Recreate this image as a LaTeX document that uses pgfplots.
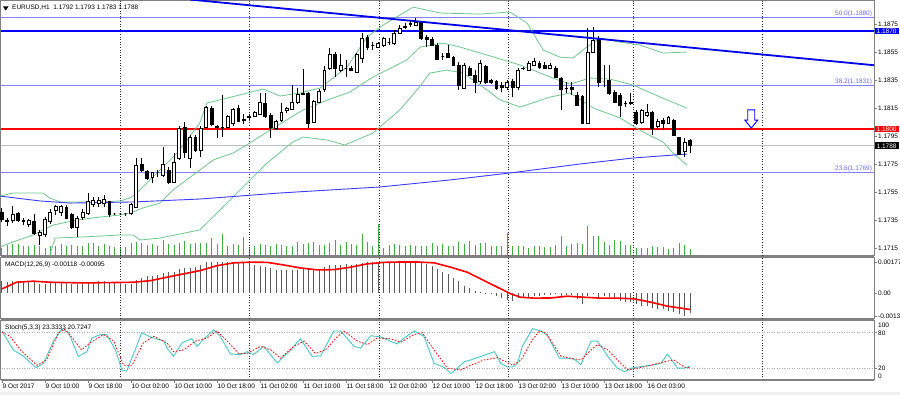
\documentclass[border=0pt]{standalone}
\usepackage{fontspec}
\setmainfont{Liberation Sans}
\usepackage{pgfplots}
\pgfplotsset{compat=1.18}
\usepackage{pgfplotstable}

\definecolor{bb}{RGB}{110,200,140}
\definecolor{vol}{RGB}{60,175,60}
\definecolor{fib}{RGB}{130,130,255}
\definecolor{ma}{RGB}{60,60,255}
\definecolor{tl}{RGB}{0,0,230}
\definecolor{stm}{RGB}{70,200,200}
\definecolor{frame}{RGB}{128,128,128}
\definecolor{hist}{RGB}{90,90,90}
\newcommand\sm{\fontsize{6.5}{7.5}\selectfont}
\pgfdeclareplotmark{nothing}{}
\newcommand\tofixed[2]{\begingroup\pgfkeys{/pgf/fpu=true,/pgf/fpu/output format=fixed}\pgfmathparse{#2}\global\let#1\pgfmathresult\endgroup}

\pgfplotstableread{
i o h l c
0 1.17407 1.17436 1.17336 1.17350
1 1.17343 1.17364 1.17307 1.17336
2 1.17350 1.17450 1.17329 1.17386
3 1.17393 1.17407 1.17336 1.17350
4 1.17343 1.17364 1.17314 1.17336
5 1.17321 1.17357 1.17300 1.17343
6 1.17336 1.17393 1.17243 1.17257
7 1.17236 1.17279 1.17171 1.17264
8 1.17243 1.17371 1.17229 1.17350
9 1.17336 1.17429 1.17321 1.17407
10 1.17421 1.17457 1.17386 1.17443
11 1.17407 1.17457 1.17379 1.17443
12 1.17443 1.17457 1.17357 1.17364
13 1.17386 1.17400 1.17286 1.17293
14 1.17293 1.17379 1.17229 1.17364
15 1.17371 1.17429 1.17350 1.17407
16 1.17400 1.17543 1.17386 1.17479
17 1.17464 1.17514 1.17443 1.17486
18 1.17471 1.17514 1.17443 1.17486
19 1.17471 1.17529 1.17443 1.17493
20 1.17479 1.17486 1.17371 1.17386
21 1.17393 1.17400 1.17386 1.17393
22 1.17393 1.17400 1.17386 1.17393
23 1.17393 1.17400 1.17379 1.17393
24 1.17393 1.17471 1.17386 1.17464
25 1.17443 1.17793 1.17436 1.17743
26 1.17750 1.17793 1.17693 1.17707
27 1.17693 1.17707 1.17636 1.17643
28 1.17657 1.17693 1.17614 1.17686
29 1.17686 1.17707 1.17657 1.17686
30 1.17671 1.17871 1.17657 1.17750
31 1.17707 1.17729 1.17607 1.17621
32 1.17621 1.17829 1.17614 1.17764
33 1.17793 1.18021 1.17779 1.18007
34 1.18014 1.18050 1.17793 1.17829
35 1.17793 1.17957 1.17721 1.17943
36 1.17943 1.17957 1.17836 1.17850
37 1.17850 1.18021 1.17800 1.18007
38 1.18014 1.18164 1.18007 1.18157
39 1.18150 1.18164 1.18021 1.18029
40 1.18021 1.18029 1.17936 1.18014
41 1.18014 1.18243 1.17943 1.18014
42 1.18014 1.18100 1.18007 1.18086
43 1.18043 1.18150 1.18021 1.18136
44 1.18150 1.18171 1.18050 1.18057
45 1.18071 1.18107 1.18036 1.18064
46 1.18079 1.18107 1.18064 1.18086
47 1.18093 1.18129 1.18086 1.18121
48 1.18107 1.18257 1.18100 1.18186
49 1.18179 1.18257 1.18079 1.18086
50 1.18100 1.18114 1.17936 1.18014
51 1.18007 1.18064 1.17993 1.18057
52 1.18064 1.18186 1.18050 1.18121
53 1.18129 1.18157 1.18114 1.18150
54 1.18143 1.18314 1.18136 1.18193
55 1.18186 1.18293 1.18179 1.18250
56 1.18250 1.18429 1.18243 1.18257
57 1.18257 1.18264 1.18007 1.18043
58 1.18050 1.18207 1.18043 1.18200
59 1.18193 1.18286 1.18186 1.18271
60 1.18279 1.18450 1.18264 1.18421
61 1.18436 1.18579 1.18421 1.18529
62 1.18529 1.18550 1.18371 1.18436
63 1.18421 1.18536 1.18407 1.18457
64 1.18436 1.18493 1.18371 1.18436
65 1.18436 1.18450 1.18414 1.18421
66 1.18407 1.18543 1.18400 1.18529
67 1.18507 1.18686 1.18471 1.18650
68 1.18657 1.18671 1.18564 1.18586
69 1.18600 1.18621 1.18564 1.18600
70 1.18586 1.18621 1.18579 1.18614
71 1.18600 1.18657 1.18586 1.18650
72 1.18621 1.18650 1.18600 1.18621
73 1.18614 1.18707 1.18600 1.18686
74 1.18686 1.18743 1.18679 1.18721
75 1.18729 1.18757 1.18714 1.18736
76 1.18750 1.18771 1.18729 1.18757
77 1.18743 1.18793 1.18736 1.18764
78 1.18764 1.18771 1.18636 1.18650
79 1.18657 1.18671 1.18586 1.18643
80 1.18643 1.18657 1.18593 1.18600
81 1.18600 1.18614 1.18493 1.18500
82 1.18521 1.18543 1.18493 1.18521
83 1.18543 1.18600 1.18507 1.18514
84 1.18514 1.18521 1.18450 1.18457
85 1.18457 1.18479 1.18279 1.18314
86 1.18293 1.18471 1.18286 1.18457
87 1.18436 1.18450 1.18379 1.18386
88 1.18386 1.18421 1.18257 1.18329
89 1.18336 1.18493 1.18321 1.18471
90 1.18450 1.18457 1.18321 1.18329
91 1.18350 1.18357 1.18321 1.18329
92 1.18343 1.18350 1.18279 1.18293
93 1.18314 1.18336 1.18264 1.18300
94 1.18300 1.18350 1.18279 1.18329
95 1.18336 1.18357 1.18229 1.18300
96 1.18300 1.18436 1.18279 1.18421
97 1.18429 1.18443 1.18421 1.18436
98 1.18421 1.18486 1.18414 1.18471
99 1.18457 1.18507 1.18450 1.18479
100 1.18471 1.18486 1.18429 1.18436
101 1.18457 1.18479 1.18429 1.18436
102 1.18436 1.18471 1.18429 1.18457
103 1.18436 1.18450 1.18364 1.18371
104 1.18364 1.18371 1.18136 1.18279
105 1.18293 1.18336 1.18257 1.18293
106 1.18300 1.18336 1.18243 1.18279
107 1.18243 1.18264 1.18164 1.18171
108 1.18229 1.18243 1.18043 1.18043
109 1.18043 1.18721 1.18036 1.18550
110 1.18550 1.18729 1.18543 1.18636
111 1.18650 1.18664 1.18300 1.18336
112 1.18336 1.18457 1.18300 1.18336
113 1.18350 1.18457 1.18243 1.18257
114 1.18264 1.18279 1.18186 1.18193
115 1.18243 1.18257 1.18086 1.18171
116 1.18179 1.18200 1.18157 1.18179
117 1.18179 1.18257 1.18171 1.18193
118 1.18121 1.18136 1.18029 1.18043
119 1.18050 1.18143 1.18036 1.18129
120 1.18100 1.18179 1.18086 1.18121
121 1.18121 1.18129 1.17957 1.18007
122 1.18021 1.18071 1.17993 1.18057
123 1.18064 1.18079 1.17993 1.18043
124 1.18043 1.18093 1.18036 1.18079
125 1.18064 1.18071 1.17950 1.17957
126 1.17936 1.17943 1.17814 1.17821
127 1.17836 1.17936 1.17800 1.17907
128 1.17920 1.17930 1.17830 1.17880
}\ohlc

\pgfplotstableread{
i v
0 8
1 11
2 12
3 12
4 10
5 10
6 11
7 10
8 8
9 10
10 10
11 12
12 10
13 11
14 10
15 10
16 13
17 13
18 10
19 12
20 10
21 9
22 8
23 9
24 13
25 14
26 13
27 11
28 12
29 10
30 16
31 12
32 11
33 13
34 15
35 12
36 13
37 13
38 13
39 18
40 12
41 22
42 10
43 12
44 11
45 19
46 9
47 10
48 12
49 11
50 10
51 12
52 11
53 10
54 10
55 14
56 12
57 13
58 14
59 11
60 11
61 13
62 16
63 11
64 14
65 12
66 11
67 22
68 14
69 10
70 32
71 8
72 11
73 12
74 11
75 10
76 11
77 10
78 10
79 10
80 13
81 10
82 12
83 10
84 10
85 14
86 12
87 15
88 11
89 13
90 13
91 10
92 10
93 10
94 23
95 10
96 10
97 10
98 8
99 10
100 10
101 9
102 9
103 11
104 20
105 10
106 12
107 13
108 12
109 30
110 20
111 20
112 14
113 11
114 16
115 15
116 11
117 11
118 8
119 8
120 8
121 10
122 9
123 9
124 7
125 8
126 13
127 11
128 7
}\volume

\pgfplotstableread{
i m
0 0.00070
1 0.00065
2 0.00067
3 0.00069
4 0.00067
5 0.00067
6 0.00061
7 0.00051
8 0.00051
9 0.00057
10 0.00063
11 0.00063
12 0.00057
13 0.00051
14 0.00051
15 0.00057
16 0.00061
17 0.00065
18 0.00067
19 0.00067
20 0.00061
21 0.00061
22 0.00057
23 0.00051
24 0.00053
25 0.00074
26 0.00086
27 0.00096
28 0.00099
29 0.00105
30 0.00114
31 0.00118
32 0.00122
33 0.00137
34 0.00141
35 0.00143
36 0.00147
37 0.00160
38 0.00176
39 0.00177
40 0.00177
41 0.00175
42 0.00175
43 0.00175
44 0.00175
45 0.00172
46 0.00170
47 0.00160
48 0.00153
49 0.00147
50 0.00141
51 0.00133
52 0.00132
53 0.00130
54 0.00130
55 0.00133
56 0.00141
57 0.00137
58 0.00133
59 0.00137
60 0.00147
61 0.00160
62 0.00162
63 0.00162
64 0.00164
65 0.00162
66 0.00166
67 0.00172
68 0.00175
69 0.00175
70 0.00176
71 0.00176
72 0.00177
73 0.00177
74 0.00177
75 0.00177
76 0.00177
77 0.00177
78 0.00175
79 0.00166
80 0.00153
81 0.00137
82 0.00122
83 0.00109
84 0.00084
85 0.00070
86 0.00042
87 0.00027
88 0.00013
89 0.00004
90 0.00001
91 -0.00005
92 -0.00015
93 -0.00030
94 -0.00038
95 -0.00046
96 -0.00030
97 -0.00021
98 -0.00021
99 -0.00019
100 -0.00015
101 -0.00011
102 -0.00010
103 -0.00008
104 -0.00015
105 -0.00011
106 -0.00011
107 -0.00034
108 -0.00063
109 -0.00019
110 -0.00006
111 -0.00025
112 -0.00015
113 -0.00025
114 -0.00034
115 -0.00044
116 -0.00050
117 -0.00053
118 -0.00063
119 -0.00073
120 -0.00076
121 -0.00088
122 -0.00092
123 -0.00095
124 -0.00101
125 -0.00110
126 -0.00121
127 -0.00132
128 -0.00118
}\macd

\pgfplotsset{
  mt4/.style={
    scale only axis, width=873pt, xmin=-0.186, xmax=162.23,
    axis line style={draw=frame, line width=1pt},
    clip mode=individual,
    xtick=\empty,
    extra x ticks={22.1,46.1,70.3,94.3,117.4,141.4},
    extra x tick labels={},
    extra x tick style={grid=major, major tick length=0pt},
    major grid style={black!85, dash pattern=on 1pt off 1.6pt, line width=0.8pt},
    tick align=outside, major tick length=3pt,
    tick style={draw=frame, line width=0.6pt},
    ytick pos=right, yticklabel pos=right,
    yticklabel style={anchor=west, font=\sm, inner sep=1pt},
    /pgf/number format/assume math mode=true,
    scaled y ticks=false,
  }
}

\begin{document}
\begin{tikzpicture}[x=1pt,y=1pt]
\useasboundingbox (0pt,0pt) rectangle (900pt,395pt);
\fill[white] (0pt,0pt) rectangle (900pt,395pt);
\fill[gray!12] (0pt,0pt) rectangle (900pt,2.5pt);

% volume overlay
\begin{axis}[mt4, at={(1pt,394pt)}, anchor=north west, height=255pt,
  ymin=0, ymax=255, axis lines=none, ytick=\empty, extra x ticks={}]
\addplot[ycomb, vol, line width=1pt, mark=none] table[x=i, y=v] {\volume};
\end{axis}

% main price panel (prices mapped to pips above 1.17 internally)
\begin{axis}[mt4, at={(1pt,394pt)}, anchor=north west, height=255pt,
  y coord trafo/.code={\pgfmathparse{#1*10000-11700}},
  ymin=1.170929, ymax=1.189143,
  ytick={1.1715,1.1735,1.1755,1.1775,1.1795,1.1815,1.1835,1.1855,1.1875},
  yticklabels={1.1715,1.1735,1.1755,1.1775,1.1795,1.1815,1.1835,1.1855,1.1875}]
% horizontal levels
\addplot[fib, line width=1pt] coordinates {(-1,1.1880) (165,1.1880)};
\addplot[fib, line width=1.6pt] coordinates {(-1,1.1831) (165,1.1831)};
\addplot[fib, line width=1.6pt] coordinates {(-1,1.1769) (165,1.1769)};
\addplot[blue, line width=1.5pt] coordinates {(-1,1.1870) (165,1.1870)};
\addplot[red, line width=1.5pt] coordinates {(-1,1.1800) (165,1.1800)};
\addplot[black!25, line width=0.8pt] coordinates {(-1,1.1788) (165,1.1788)};
% Bollinger bands
\addplot[bb, line width=0.8pt] coordinates {(-0.4,1.17521) (2.1,1.17543) (7.6,1.17543) (8.9,1.17507) (10.8,1.17479) (18.2,1.17479) (22,1.17486) (23.8,1.17507) (25.1,1.17543) (27.5,1.17636) (32.6,1.17829) (36.8,1.18043) (38.1,1.18186) (41.9,1.18221) (48.6,1.18286) (51.7,1.18236) (55.4,1.18257) (59.2,1.18293) (64.2,1.18443) (67.9,1.18657) (70.9,1.18743) (76.5,1.18871) (81.5,1.18829) (88.9,1.18821) (94.5,1.18836) (97.7,1.18757) (100.7,1.18564) (103.8,1.18514) (106.2,1.18507) (108.8,1.18586) (111.3,1.18650) (115,1.18621) (118.7,1.18600) (123,1.18543) (127.4,1.18550)};
\addplot[bb, line width=0.8pt] coordinates {(-0.4,1.17157) (2.0,1.17193) (5.8,1.17243) (7.6,1.17279) (9.5,1.17314) (14,1.17350) (18.2,1.17371) (22,1.17386) (24.4,1.17407) (26.2,1.17436) (29.4,1.17471) (31.8,1.17564) (36.8,1.17707) (39.3,1.17779) (43.0,1.17829) (46.1,1.17900) (49.9,1.17993) (56.0,1.18136) (60.5,1.18207) (64.7,1.18264) (69.0,1.18371) (75.3,1.18493) (77.8,1.18586) (82.0,1.18614) (85.2,1.18586) (90.2,1.18529) (96.4,1.18457) (102.5,1.18364) (105.7,1.18321) (109.4,1.18364) (113.1,1.18357) (117.4,1.18314) (122.4,1.18229) (127.4,1.18150)};
\addplot[bb, line width=0.8pt] coordinates {(-0.4,1.16900) (8.6,1.17050) (8.9,1.17100) (9.9,1.17221) (15.1,1.17229) (22,1.17243) (24.4,1.17243) (25.7,1.17207) (29.4,1.17221) (36.8,1.17279) (43.0,1.17514) (49.3,1.17757) (54.1,1.17907) (56.0,1.17943) (60.5,1.17921) (63.8,1.17886) (69.0,1.17971) (74.0,1.18136) (77.2,1.18279) (79.6,1.18400) (82.8,1.18421) (85.8,1.18400) (89.5,1.18300) (92.7,1.18207) (96.4,1.18157) (102.0,1.18229) (105.7,1.18257) (110.0,1.18150) (115.0,1.18079) (117.4,1.18021) (120.0,1.17964) (123.0,1.17907) (124.8,1.17829) (127.4,1.17743)};
% long moving average
\addplot[ma, line width=0.9pt] coordinates {(-0.4,1.17521) (7.1,1.17486) (12.7,1.17471) (24.4,1.17479) (36.8,1.17500) (51.7,1.17543) (70.3,1.17586) (83.3,1.17636) (94.5,1.17686) (107.5,1.17750) (117.4,1.17793) (127.4,1.17821)};
% candles
\addplot[scatter, only marks, mark=nothing, point meta=0,
  visualization depends on={(\thisrow{h}-\thisrow{o})*14000 \as \rh},
  visualization depends on={(\thisrow{l}-\thisrow{o})*14000 \as \rl},
  visualization depends on={(\thisrow{c}-\thisrow{o})*14000 \as \rc},
  scatter/@pre marker code/.code={%
    \tofixed\dH{\rh}\tofixed\dL{\rl}\tofixed\dC{\rc}%
    \draw[black, line width=1pt] (0pt,\dL pt) -- (0pt,\dH pt);%
    \ifdim\dC pt>0.01pt
      \filldraw[fill=white, draw=black, line width=1pt] (-1.4pt,0pt) rectangle (1.4pt,\dC pt);%
    \else
      \filldraw[fill=black, draw=black, line width=1pt] (-1.4pt,0pt) rectangle (1.4pt,\dC pt);%
    \fi
  },
  scatter/@post marker code/.code={}]
  table[x=i, y=o] {\ohlc};
% trend line
\addplot[tl, line width=1.8pt] coordinates {(35,1.18925) (163,1.18453)};
% arrow
\draw[blue, line width=0.9pt, fill=white] (axis cs:138.75,1.18136) -- (axis cs:140.05,1.18136) -- (axis cs:140.05,1.18064) -- (axis cs:140.6,1.18064) -- (axis cs:139.4,1.18007) -- (axis cs:138.2,1.18064) -- (axis cs:138.75,1.18064) -- cycle;
% level texts
\node[anchor=base east, text=fib!80!blue, font=\sm, inner sep=0pt, yshift=1.5pt] at (axis cs:161.9,1.1880) {50.0(1.1880)};
\node[anchor=base east, text=fib!80!blue, font=\sm, inner sep=0pt, yshift=2pt] at (axis cs:161.9,1.1831) {38.2(1.1831)};
\node[anchor=base east, text=fib!80!blue, font=\sm, inner sep=0pt, yshift=2pt] at (axis cs:161.9,1.1769) {23.6(1.1769)};
% price boxes
\node[anchor=west, fill=blue, text=white, font=\sm, inner xsep=2pt, inner ysep=1pt, xshift=0.5pt] at (axis cs:162.23,1.1870) {1.1870};
\node[anchor=west, fill=red, text=white, font=\sm, inner xsep=2pt, inner ysep=1pt, xshift=0.5pt] at (axis cs:162.23,1.1800) {1.1800};
\node[anchor=west, fill=black, text=white, font=\sm, inner xsep=2pt, inner ysep=1pt, xshift=0.5pt] at (axis cs:162.23,1.1788) {1.1788};
\end{axis}

% MACD panel (values mapped to positive units of 0.00001 internally)
\begin{axis}[mt4, at={(1pt,137pt)}, anchor=north west, height=61pt,
  y coord trafo/.code={\pgfmathparse{#1*1000*100+150}},
  ymin=-0.001492, ymax=0.001999,
  ytick={-0.00132,0,0.00177}, yticklabels={-0.00132,0.00,0.00177}]
\addplot[scatter, only marks, mark=nothing, point meta=0,
  visualization depends on={-\thisrow{m}*1000*17.474 \as \mh},
  scatter/@pre marker code/.code={%
    \tofixed\dM{\mh}%
    \draw[hist, line width=1pt] (0pt,0pt) -- (0pt,\dM pt);%
  },
  scatter/@post marker code/.code={}]
  table[x=i, y=m] {\macd};
\addplot[red, line width=1.6pt, mark=none] coordinates {(0,0.00023) (2.7,0.00061) (5.8,0.00067) (8.9,0.00061) (15.2,0.00057) (24.5,0.00061) (27.6,0.00070) (30.7,0.00090) (33.8,0.00109) (36.9,0.00128) (40,0.00156) (43.1,0.00172) (46.2,0.00176) (49.3,0.00175) (52.4,0.00160) (55.5,0.00143) (58.6,0.00132) (61.7,0.00133) (64.8,0.00147) (67.9,0.00166) (71.1,0.00175) (74.2,0.00177) (77.3,0.00177) (80.4,0.00172) (83.5,0.00147) (86.6,0.00118) (89.7,0.00070) (92.8,0.00023) (94.7,-0.00006) (96.5,-0.00025) (99,-0.00030) (102.1,-0.00029) (105.2,-0.00019) (108.3,-0.00025) (111.4,-0.00030) (114.5,-0.00030) (117.6,-0.00034) (120.7,-0.00053) (123.8,-0.00076) (126.9,-0.00090) (128,-0.00095)};
\end{axis}

% Stochastic panel
\begin{axis}[mt4, at={(1pt,74pt)}, anchor=north west, height=59pt,
  ymin=0, ymax=100, ytick={20,80},
  xtick={0,8,...,120}, xtick pos=bottom,
  xticklabels={9 Oct 2017,9 Oct 10:00,9 Oct 18:00,10 Oct 02:00,10 Oct 10:00,10 Oct 18:00,11 Oct 02:00,11 Oct 10:00,11 Oct 18:00,12 Oct 02:00,12 Oct 10:00,12 Oct 18:00,13 Oct 02:00,13 Oct 10:00,13 Oct 18:00,16 Oct 03:00},
  xticklabel style={anchor=north west, font=\sm, inner sep=0pt, xshift=0.5pt, yshift=-1pt}]
\addplot[black!35, dash pattern=on 1pt off 1.5pt, line width=0.7pt] coordinates {(-1,20) (165,20)};
\addplot[black!35, dash pattern=on 1pt off 1.5pt, line width=0.7pt] coordinates {(-1,80) (165,80)};
\addplot[stm, line width=0.9pt, mark=none] coordinates {(0,83) (2.1,51) (4,40) (6.3,21) (7.7,28) (9.6,66) (11.1,86) (12.4,80) (14.2,40) (15.8,48) (16.7,71) (18.3,77) (19.5,77) (21.1,51) (22.3,17) (23.2,15) (24.5,45) (26,80) (27.6,73) (30.1,66) (30.7,54) (31.9,40) (33.5,63) (35.3,70) (36.3,57) (37.5,69) (39.4,85) (40.6,74) (42.5,44) (44.4,43) (45.6,48) (46.8,43) (48.7,57) (51.2,29) (53.7,51) (55.5,70) (57.7,40) (59.3,41) (61.7,83) (63,83) (65.5,57) (66.7,54) (68.6,75) (70.5,73) (73.5,61) (74.8,71) (76.7,83) (78.5,74) (80.4,28) (82.2,22) (83.5,11) (84.7,20) (86,31) (87.2,34) (89.1,40) (91.6,48) (92.8,28) (94,22) (95,22) (95.9,28) (96.8,57) (98.7,87) (100.3,83) (101.5,75) (103.7,37) (105.2,37) (106.5,35) (107.7,26) (109.6,66) (110.8,66) (112.7,40) (114.5,20) (115.8,14) (117,20) (118.3,22) (120.8,25) (122.6,28) (123.8,44) (125.7,20) (126.9,20) (128,23.3)};
\addplot[red, line width=0.8pt, dash pattern=on 1.6pt off 1.6pt, mark=none] coordinates {(0,81) (1.5,74) (3.4,51) (6.5,25) (8.3,34) (10.5,80) (11.7,86) (13.3,69) (14.8,51) (16.4,63) (18.9,77) (20.8,66) (22.6,25) (24.2,25) (26.3,63) (28.2,74) (30.7,63) (31.9,48) (33.8,51) (36,66) (38.1,71) (40,83) (41.9,66) (44,45) (45.6,45) (48.1,57) (50,51) (51.8,37) (54.3,57) (56.2,66) (58.3,45) (60.2,51) (62.1,71) (63.6,83) (66.1,66) (68,60) (69.8,71) (72.3,70) (74.2,64) (76.6,77) (78.2,80) (80.4,51) (82.9,20) (85.3,17) (87.2,25) (89.7,34) (92.2,38) (93.7,31) (95,25) (96.6,34) (98.5,66) (100,83) (101.2,80) (102.8,57) (104,40) (105.8,37) (107.7,34) (109.6,51) (110.8,60) (112.7,51) (114.5,34) (116.4,17) (118.2,20) (120.7,25) (123.2,31) (125,34) (126.9,22) (128,20.7)};
\node[anchor=west, font=\sm, inner sep=1pt, xshift=3pt] at (axis cs:162.23,92.7) {100};
\node[anchor=west, font=\sm, inner sep=1pt, xshift=3pt] at (axis cs:162.23,6.7) {0};
\end{axis}

% panel separators
\fill[frame] (1pt,137pt) rectangle (874pt,139pt);
\fill[frame] (1pt,74pt) rectangle (874pt,76pt);
\fill[frame] (1pt,14pt) rectangle (874pt,16pt);

% titles
\fill[black] (3pt,388.5pt) -- (8.5pt,388.5pt) -- (5.75pt,384.5pt) -- cycle;
\node[anchor=base west, inner sep=0pt, font=\sm] at (12pt,385.5pt) {EURUSD,H1\ \ 1.1792 1.1793 1.1783 1.1788};
\node[anchor=base west, inner sep=0pt, font=\sm] at (5pt,128.5pt) {MACD(12,26,9) -0.00118 -0.00095};
\node[anchor=base west, inner sep=0pt, font=\sm] at (5pt,65pt) {Stoch(5,3,3) 23.3333 20.7247};
\end{tikzpicture}
\end{document}
